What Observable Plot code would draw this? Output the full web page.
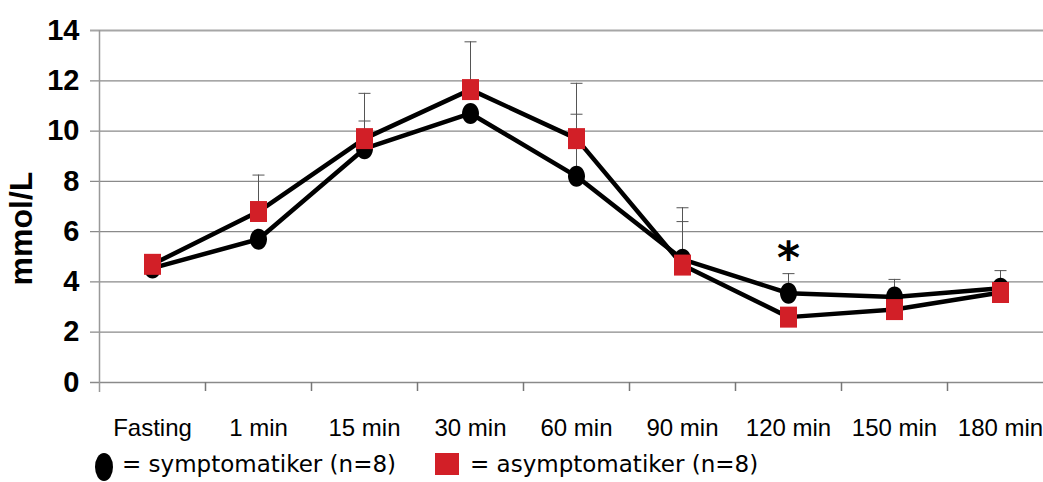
<!DOCTYPE html>
<html><head><meta charset="utf-8">
<script src="https://cdn.jsdelivr.net/npm/d3@7"></script>
<script src="https://cdn.jsdelivr.net/npm/@observablehq/plot@0.6"></script>
<style>
body{margin:0;background:#fff;}
#wrap{position:relative;width:1043px;height:482px;overflow:hidden;background:#fff;}
#chart svg{display:block;}
#legend{position:absolute;left:0;top:448px;width:1043px;height:34px;font-family:"DejaVu Sans",sans-serif;font-size:23px;color:#000;}
.sw{position:absolute;}
.lab{position:absolute;top:3px;white-space:nowrap;line-height:27px;}
</style></head><body>
<div id="wrap"><div id="chart"></div><div id="legend"></div></div>
<script>
const categories = ["Fasting","1 min","15 min","30 min","60 min","90 min","120 min","150 min","180 min"];
const symptomatic  = [4.55, 5.7, 9.3, 10.7, 8.2, 4.9, 3.55, 3.4, 3.75];
const asymptomatic = [4.7, 6.8, 9.7, 11.65, 9.7, 4.67, 2.6, 2.9, 3.58];
const symptomaticUpper  = [null, null, 10.4, null, 10.67, 6.4, 4.33, 4.1, 4.45];
const asymptomaticUpper = [null, 8.25, 11.5, 13.55, 11.9, 6.95, null, null, null];
const yTicks = [0, 2, 4, 6, 8, 10, 12, 14];
const seriesNames = ["symptomatiker (n=8)", "asymptomatiker (n=8)"];
const annotations = [{t: "120 min", v: 5.3, label: "*"}];

const rows = (vals, up, s) => categories.map((t, i) => ({t, v: vals[i], hi: up[i], s}));
const sym = rows(symptomatic, symptomaticUpper, seriesNames[0]);
const asym = rows(asymptomatic, asymptomaticUpper, seriesNames[1]);
const errs = sym.concat(asym).filter(d => d.hi != null);

const ellipse = {draw(ctx){ const rx=8.5, ry=10.5, k=0.5523;
  ctx.moveTo(rx,0);
  ctx.bezierCurveTo(rx, ry*k, rx*k, ry, 0, ry);
  ctx.bezierCurveTo(-rx*k, ry, -rx, ry*k, -rx, 0);
  ctx.bezierCurveTo(-rx, -ry*k, -rx*k, -ry, 0, -ry);
  ctx.bezierCurveTo(rx*k, -ry, rx, -ry*k, rx, 0);
  ctx.closePath(); }};
const rectSym = {draw(ctx){ ctx.moveTo(-8.5,-10.5); ctx.lineTo(8.5,-10.5); ctx.lineTo(8.5,10.5); ctx.lineTo(-8.5,10.5); ctx.closePath(); }};
const capSym = {draw(ctx){ ctx.moveTo(-6,0); ctx.lineTo(6,0); }};

const RED = "#d21f27";

const plot = Plot.plot({
  width: 1043, height: 448,
  marginLeft: 99, marginRight: 0, marginTop: 30, marginBottom: 66,
  style: {fontFamily: "'Liberation Sans', Arial, sans-serif", background: "white", color: "black"},
  x: {type: "point", domain: categories, range: [99, 1053], padding: 0.5, label: null},
  y: {domain: [0, 14], label: null},
  marks: [
    Plot.ruleY(yTicks.slice(0, -1), {y: d => d, stroke: "#8a8a8a", strokeWidth: 1.3, insetLeft: -9}),
    Plot.ruleY(yTicks.slice(-1), {y: d => d, stroke: "#a6a6a6", strokeWidth: 2, insetLeft: -9}),
    Plot.ruleX([categories[0]], {x: d => d, dx: -53, y1: 14, y2: 0, insetBottom: -10, stroke: "#999", strokeWidth: 1.5}),
    Plot.ruleX(categories.slice(0, -1), {x: d => d, dx: 53, y1: 0, y2: 0, insetBottom: -9, stroke: "#777", strokeWidth: 1.5}),
    Plot.axisY({ticks: yTicks, tickSize: 0, tickPadding: 20, fontSize: 29, fontWeight: "bold", label: null}),
    Plot.axisX({tickSize: 0, tickPadding: 36, fontSize: 24, label: null}),
    Plot.text(["mmol/L"], {frameAnchor: "left", textAnchor: "middle", dx: -78, dy: 22, rotate: -90, fontSize: 32, fontWeight: "bold"}),
    Plot.ruleX(errs, {x: "t", y1: "v", y2: "hi", stroke: "#555", strokeWidth: 1}),
    Plot.dot(errs, {x: "t", y: "hi", symbol: capSym, fill: "none", stroke: "#555", strokeWidth: 1}),
    Plot.line(sym, {x: "t", y: "v", stroke: "black", strokeWidth: 4.5}),
    Plot.line(asym, {x: "t", y: "v", stroke: "black", strokeWidth: 4.5}),
    Plot.dot(sym, {x: "t", y: "v", symbol: ellipse, fill: "black", stroke: "none"}),
    Plot.dot(asym, {x: "t", y: "v", symbol: rectSym, fill: RED, stroke: "none"}),
    Plot.text(annotations, {x: "t", y: "v", text: "label", fontSize: 44, fontWeight: "bold", fontFamily: "'DejaVu Sans'", lineAnchor: "middle", dy: 10})
  ]
});
document.getElementById("chart").appendChild(plot);

const legend = document.getElementById("legend");
legend.innerHTML =
  `<div class="sw" style="left:95px;top:5px;width:18px;height:28px;border-radius:50%;background:#000"></div>
   <div class="lab" style="left:122px">= ${seriesNames[0]}</div>
   <div class="sw" style="left:435px;top:5px;width:24px;height:22px;background:${RED}"></div>
   <div class="lab" style="left:470px">= ${seriesNames[1]}</div>`;
</script>
</body></html>
